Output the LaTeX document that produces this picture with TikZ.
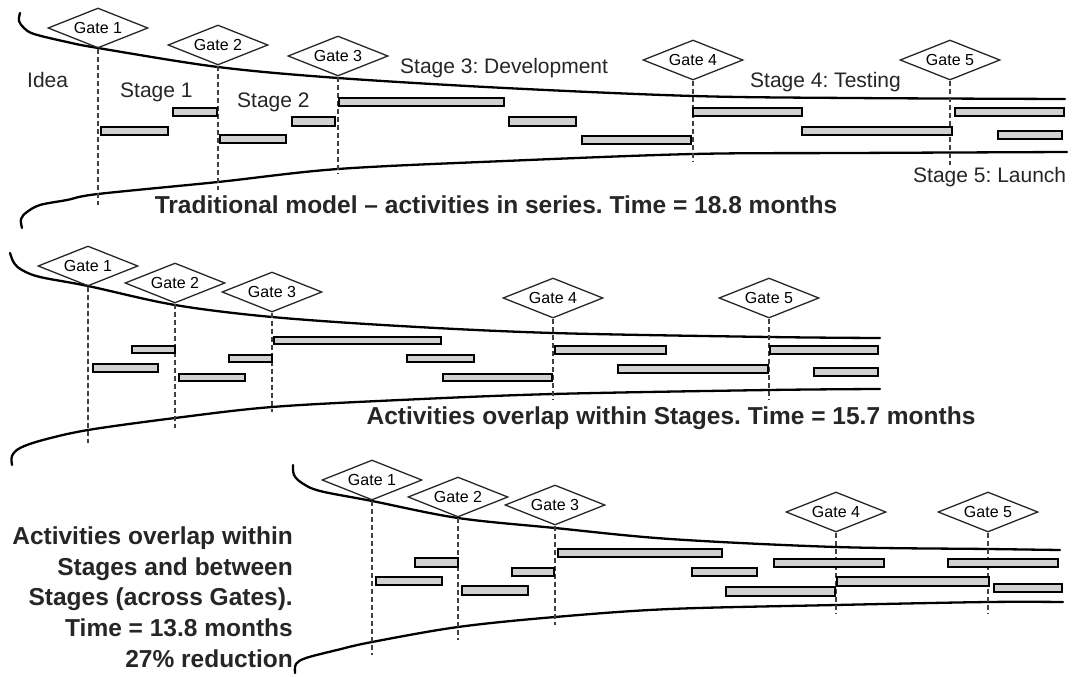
\documentclass[tikz,border=0pt]{standalone}
\usepackage{fontspec}
\setmainfont{Liberation Sans}
\usetikzlibrary{shapes.geometric}
\frenchspacing
\begin{document}
\begin{tikzpicture}[x=1pt,y=-1pt,
  funnel/.style={line width=2.3pt, line cap=round},
  gate/.style={diamond, draw=black!85, line width=1.3pt, minimum width=100pt, minimum height=40pt, inner sep=0pt, aspect=2.5, font=\fontsize{16}{16}\selectfont},
  gateline/.style={draw=black!75, line width=1.1pt, dash pattern=on 5pt off 3pt},
  bar/.style={draw=black, fill=black!18, line width=1.8pt},
  stagelbl/.style={anchor=base west, inner sep=0pt, font=\fontsize{21}{25}\selectfont, text=black!85},
  title/.style={inner sep=0pt, font=\bfseries\fontsize{24.5}{30}\selectfont, text=black!85}]
\useasboundingbox[fill=white] (0,0) rectangle (1074,677);

% ---------------- Panel 1 ----------------
\draw[funnel] plot[smooth, tension=0.55] coordinates {(20,13) (19,21) (24,28) (34,34) (67,42) (98,48) (218,67) (338,78) (505,88) (693,96) (850,98) (1065,99)};
\draw[funnel] plot[smooth, tension=0.55] coordinates {(22,228) (21,219) (27,212) (40,205) (67,200) (98,194) (218,182) (338,169) (505,161) (693,154) (850,153) (1067,152)};

\node[gate] (a1) at (98,28) {Gate 1};
\node[gate] (a2) at (218,45) {Gate 2};
\node[gate] (a3) at (338,56) {Gate 3};
\node[gate] (a4) at (693,60) {Gate 4};
\node[gate] (a5) at (950,60) {Gate 5};
\coordinate (ae1) at (98,205);
\coordinate (ae2) at (218,190);
\coordinate (ae3) at (338,173);
\coordinate (ae4) at (693,162);
\coordinate (ae5) at (950,165);
\foreach \i in {1,...,5} {\draw[gateline] (a\i.south) -- (ae\i);}

\draw[bar] (101,127) rectangle (168,135);
\draw[bar] (173,108) rectangle (217,116);
\draw[bar] (220,135) rectangle (286,143);
\draw[bar] (292,117) rectangle (335,126);
\draw[bar] (339,98) rectangle (504,106);
\draw[bar] (509,117) rectangle (576,126);
\draw[bar] (582,136) rectangle (691,144);
\draw[bar] (693,108) rectangle (802,116);
\draw[bar] (802,127) rectangle (952,135);
\draw[bar] (955,108) rectangle (1064,116);
\draw[bar] (998,131) rectangle (1062,139);

\node[stagelbl] (idea) at (27,88) {Idea};
\node[stagelbl] (s1) at (120,98) {Stage 1};
\node[stagelbl] (s2) at (237,107) {Stage 2};
\node[stagelbl] (s3) at (400,74) {Stage 3: Development};
\node[stagelbl] (s4) at (750,88) {Stage 4: Testing};
\node[stagelbl] (s5) at (913,182) {Stage 5: Launch};

\node[title, anchor=base] (t1) at (496,213) {Traditional model \textendash{} activities in series. Time = 18.8 months};

% ---------------- Panel 2 ----------------
\draw[funnel] plot[smooth, tension=0.55] coordinates {(10,253) (14,263) (22,270) (40,277) (88,286) (175,305) (272,317) (400,326) (553,333) (769,337) (880,338)};
\draw[funnel] plot[smooth, tension=0.55] coordinates {(12,465) (12,456) (20,448) (43,440) (88,430) (175,418) (272,407) (400,400) (553,394) (769,390) (880,389)};

\node[gate] (b1) at (88,266) {Gate 1};
\node[gate] (b2) at (175,283) {Gate 2};
\node[gate] (b3) at (272,292) {Gate 3};
\node[gate] (b4) at (553,298) {Gate 4};
\node[gate] (b5) at (769,298) {Gate 5};
\coordinate (be1) at (88,443);
\coordinate (be2) at (175,428);
\coordinate (be3) at (272,412);
\coordinate (be4) at (553,400);
\coordinate (be5) at (769,400);
\foreach \i in {1,...,5} {\draw[gateline] (b\i.south) -- (be\i);}

\draw[bar] (93,364) rectangle (158,372);
\draw[bar] (132,346) rectangle (175,353);
\draw[bar] (179,374) rectangle (245,381);
\draw[bar] (229,355) rectangle (272,362);
\draw[bar] (274,337) rectangle (441,344);
\draw[bar] (407,355) rectangle (474,362);
\draw[bar] (443,374) rectangle (552,381);
\draw[bar] (555,346) rectangle (666,354);
\draw[bar] (618,365) rectangle (768,373);
\draw[bar] (770,346) rectangle (878,354);
\draw[bar] (814,368) rectangle (878,376);

\node[title, anchor=base] (t2) at (671,424) {Activities overlap within Stages. Time = 15.7 months};

% ---------------- Panel 3 ----------------
\draw[funnel] plot[smooth, tension=0.55] coordinates {(293,465) (294,475) (302,483) (320,491) (372,501) (458,518) (555,528) (670,539) (836,547) (988,549) (1060,550)};
\draw[funnel] plot[smooth, tension=0.55] coordinates {(295,673) (296,664) (306,658) (337,650) (372,642) (458,627) (555,617) (670,609) (836,605) (988,602) (1063,602)};

\node[gate] (c1) at (372,480) {Gate 1};
\node[gate] (c2) at (458,497) {Gate 2};
\node[gate] (c3) at (555,505) {Gate 3};
\node[gate] (c4) at (836,512) {Gate 4};
\node[gate] (c5) at (988,512) {Gate 5};
\coordinate (ce1) at (372,655);
\coordinate (ce2) at (458,640);
\coordinate (ce3) at (555,625);
\coordinate (ce4) at (836,613);
\coordinate (ce5) at (988,613);
\foreach \i in {1,...,5} {\draw[gateline] (c\i.south) -- (ce\i);}

\draw[bar] (376,577) rectangle (442,585);
\draw[bar] (415,558) rectangle (458,567);
\draw[bar] (462,586) rectangle (528,595);
\draw[bar] (512,568) rectangle (554,576);
\draw[bar] (558,549) rectangle (722,557);
\draw[bar] (692,568) rectangle (757,576);
\draw[bar] (726,587) rectangle (835,596);
\draw[bar] (774,559) rectangle (884,567);
\draw[bar] (837,577) rectangle (989,586);
\draw[bar] (948,559) rectangle (1058,567);
\draw[bar] (994,584) rectangle (1062,592);

\node[title, anchor=base east] (l1) at (293,544) {Activities overlap within};
\node[title, anchor=base east] (l2) at (293,575) {Stages and between};
\node[title, anchor=base east] (l3) at (293,605) {Stages (across Gates).};
\node[title, anchor=base east] (l4) at (293,636) {Time = 13.8 months};
\node[title, anchor=base east] (l5) at (293,667) {27\% reduction};
\end{tikzpicture}
\end{document}
